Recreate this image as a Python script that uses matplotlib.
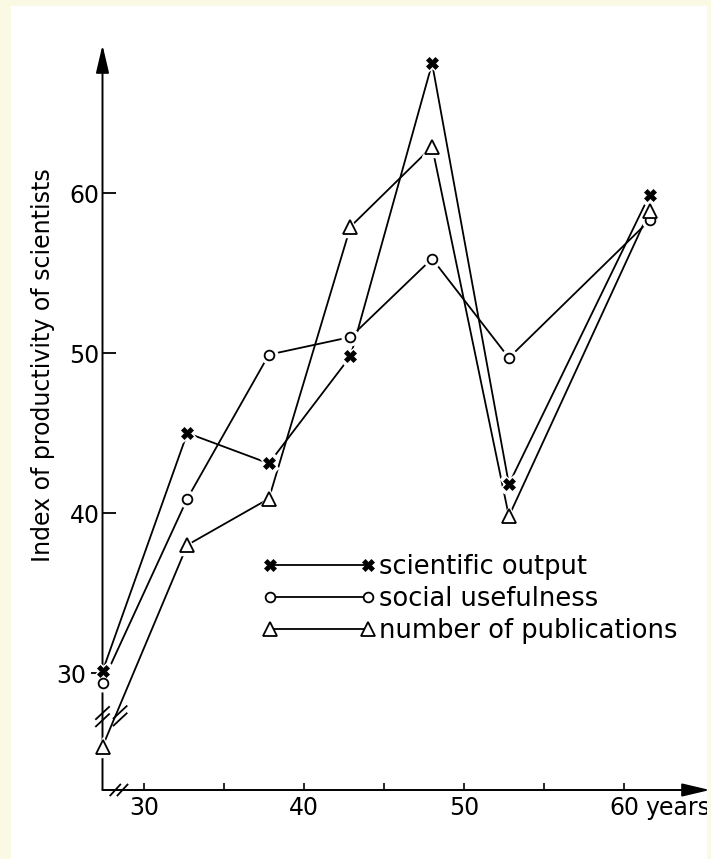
import matplotlib
matplotlib.use("Agg")
import matplotlib.pyplot as plt
import matplotlib.lines as mlines
import matplotlib.transforms as mtransforms
from matplotlib.patches import Rectangle, ArrowStyle

# ---- data ----
ages = [27.4, 32.7, 37.8, 42.9, 48.0, 52.8, 61.6]
scientific_output = [30.1, 45.0, 43.1, 49.8, 68.1, 41.8, 59.9]
social_usefulness = [29.4, 40.9, 49.9, 51.0, 55.9, 49.7, 58.3]
number_of_publications = [25.4, 38.0, 40.9, 57.9, 62.9, 39.8, 58.9]

series_labels = ["scientific output", "social usefulness", "number of publications"]
y_ticks = [30, 40, 50, 60]
x_major_ticks = [30, 40, 50, 60]
x_minor_ticks = [35, 45, 55]

W, H = 711, 859
plt.rcParams['font.family'] = ['DejaVu Sans']
fig = plt.figure(figsize=(W / 100, H / 100), dpi=100, facecolor='white')

# axes placement in pixels
left_px, right_px, bottom_px, top_px = 102.5, 710, 790, 45
ax = fig.add_axes([left_px / W, 1 - bottom_px / H, (right_px - left_px) / W, (bottom_px - top_px) / H])
ax.set_facecolor('none')
ax.set_xlim(27.4, 27.4 + (right_px - left_px) / 16.0)
ax.set_ylim(22.69, 22.69 + (bottom_px - top_px) / 16.0)

for s in ax.spines.values():
    s.set_visible(False)

# axis lines with arrowheads
arrow = ArrowStyle('-|>', head_length=0.85, head_width=0.2)
ax.annotate('', xy=(0, 1), xytext=(0, 0), xycoords='axes fraction',
            arrowprops=dict(arrowstyle=arrow, lw=1.4, color='black', shrinkA=0, shrinkB=0,
                            mutation_scale=20), annotation_clip=False)
ax.annotate('', xy=(1, 0), xytext=(0, 0), xycoords='axes fraction',
            arrowprops=dict(arrowstyle=arrow, lw=1.4, color='black', shrinkA=0, shrinkB=0,
                            mutation_scale=20), annotation_clip=False)

lw = 1.3
styles = [
    dict(marker='X', ms=8, mfc='black', mec='black', mew=0.5),
    dict(marker='o', ms=7, mfc='white', mec='black', mew=1.3),
    dict(marker='^', ms=9.5, mfc='white', mec='black', mew=1.3),
]
all_series = [scientific_output, social_usefulness, number_of_publications]

handles = []
for vals, st, lab in zip(all_series, styles, series_labels):
    ax.plot(ages, vals, color='black', lw=lw, zorder=2, clip_on=False)
    # white halo to leave small gaps between lines and markers
    ax.plot(ages, vals, ls='none', marker=st['marker'], ms=st['ms'] + 5,
            mfc='white', mec='white', zorder=3, clip_on=False)
    ax.plot(ages, vals, ls='none', zorder=4, clip_on=False, **st)
    handles.append(mlines.Line2D([], [], color='black', lw=lw, **st))

leg = ax.legend(handles, series_labels, numpoints=2, frameon=False, loc='upper left',
                bbox_to_anchor=(0.263, 0.317), fontsize=18.5, handlelength=4.4,
                handletextpad=0.15, labelspacing=0.24, borderpad=0, borderaxespad=0)

# ticks
ax.set_yticks(y_ticks)
ax.set_yticklabels([str(v) for v in y_ticks])
ax.set_xticks(x_major_ticks)
ax.set_xticklabels([str(v) for v in x_major_ticks])
ax.set_xticks(x_minor_ticks, minor=True)
ax.tick_params(axis='y', direction='in', length=9, width=1.3, pad=2, labelsize=17)
ax.tick_params(axis='x', which='both', direction='in', length=5, width=1.2, pad=4, labelsize=17)
t30 = ax.yaxis.get_major_ticks()[0]
t30.tick1line.set_marker(mlines.TICKLEFT)
t30.label1.set_transform(t30.label1.get_transform() +
                         mtransforms.ScaledTranslation(-10 / 72, 0, fig.dpi_scale_trans))

ax.annotate('years', xy=(61.35, 0), xycoords=('data', 'axes fraction'), xytext=(0, -4),
            textcoords='offset points', ha='left', va='top', fontsize=17, annotation_clip=False)

fig.text(43 / W, 1 - 365 / H, 'Index of productivity of scientists', rotation=90,
         ha='center', va='center', fontsize=17)

# break marks (decorations)
def break_mark(cx, cy, dx, dy, w=0.45, h=0.42):
    for k in range(2):
        x0 = cx + k * dx
        y0 = cy + k * dy
        ax.plot([x0 - w, x0 + w], [y0 - h, y0 + h], color='black', lw=1.3,
                zorder=5, clip_on=False, solid_capstyle='butt')

break_mark(27.4, 27.05, 0.0, 0.45)
break_mark(28.5, 27.1, 0.0, 0.45)
break_mark(28.2, 22.69, 0.45, 0.0, w=0.35, h=0.38)

# yellow page border
border = '#fafae4'
for (x, y, w, h) in [(0, 0, 11 / W, 1), (0, 1 - 6 / H, 1, 6 / H), (707 / W, 0, 1, 1)]:
    fig.patches.append(Rectangle((x, y), w, h, transform=fig.transFigure,
                                 facecolor=border, edgecolor='none', zorder=100))

fig.savefig('out.png', dpi=100, facecolor=fig.get_facecolor())
